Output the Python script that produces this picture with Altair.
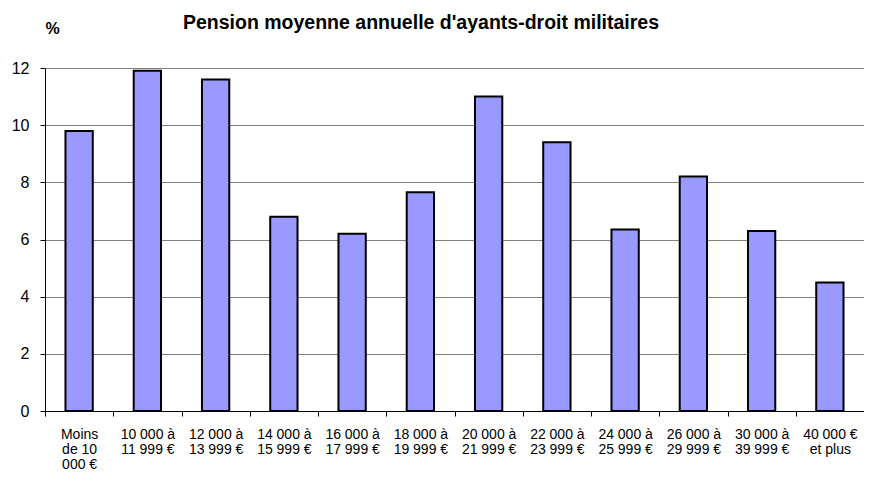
import altair as alt
import pandas as pd

categories = [
    "Moins|de 10|000 €",
    "10 000 à|11 999 €",
    "12 000 à|13 999 €",
    "14 000 à|15 999 €",
    "16 000 à|17 999 €",
    "18 000 à|19 999 €",
    "20 000 à|21 999 €",
    "22 000 à|23 999 €",
    "24 000 à|25 999 €",
    "26 000 à|29 999 €",
    "30 000 à|39 999 €",
    "40 000 €|et plus",
]
values = [9.8, 11.9, 11.6, 6.8, 6.2, 7.65, 11.0, 9.4, 6.35, 8.2, 6.3, 4.5]
y_ticks = [0, 2, 4, 6, 8, 10, 12]

df = pd.DataFrame({"cat": categories, "val": values})

FONT = "Liberation Sans"

chart = (
    alt.Chart(df)
    .mark_bar(width=alt.RelativeBandSize(0.4), fill="#9999FF", stroke="black", strokeWidth=2)
    .encode(
        x=alt.X(
            "cat:N",
            sort=categories,
            scale=alt.Scale(paddingInner=0, paddingOuter=0),
            axis=alt.Axis(
                title=None,
                labelAngle=0,
                labelExpr="split(datum.label, '|')",
                labelFont=FONT,
                labelFontSize=14,
                labelColor="black",
                labelLineHeight=15,
                labelPadding=11,
                labelAlign="center",
                tickBand="extent",
                ticks=True,
                tickSize=5,
                tickColor="black",
                domainColor="black",
                grid=False,
            ),
        ),
        y=alt.Y(
            "val:Q",
            scale=alt.Scale(domain=[0, 12], nice=False),
            axis=alt.Axis(
                title="%",
                titleAngle=0,
                titleFont=FONT,
                titleFontSize=16,
                titleFontWeight="bold",
                titleAlign="center",
                titleBaseline="middle",
                titleX=7,
                titleY=-40,
                values=y_ticks,
                labelFont=FONT,
                labelFontSize=16,
                labelColor="black",
                labelPadding=11,
                tickSize=5,
                tickColor="black",
                domainColor="black",
                gridColor="#808080",
                gridWidth=1,
            ),
        ),
    )
    .properties(
        width=819,
        height=343,
        autosize=alt.AutoSizeParams(type="none"),
        padding={"left": 37, "top": 60, "right": 0, "bottom": 62},
        title=alt.Title(
            "Pension moyenne annuelle d'ayants-droit militaires",
            font=FONT,
            fontSize=19.5,
            fontWeight="bold",
            color="black",
            anchor="start",
            frame="group",
            dx=138,
            offset=-13,
        ),
    )
    .configure_view(stroke=None)
)

chart.save("out.html", embed_options={"renderer": "svg", "actions": False})
